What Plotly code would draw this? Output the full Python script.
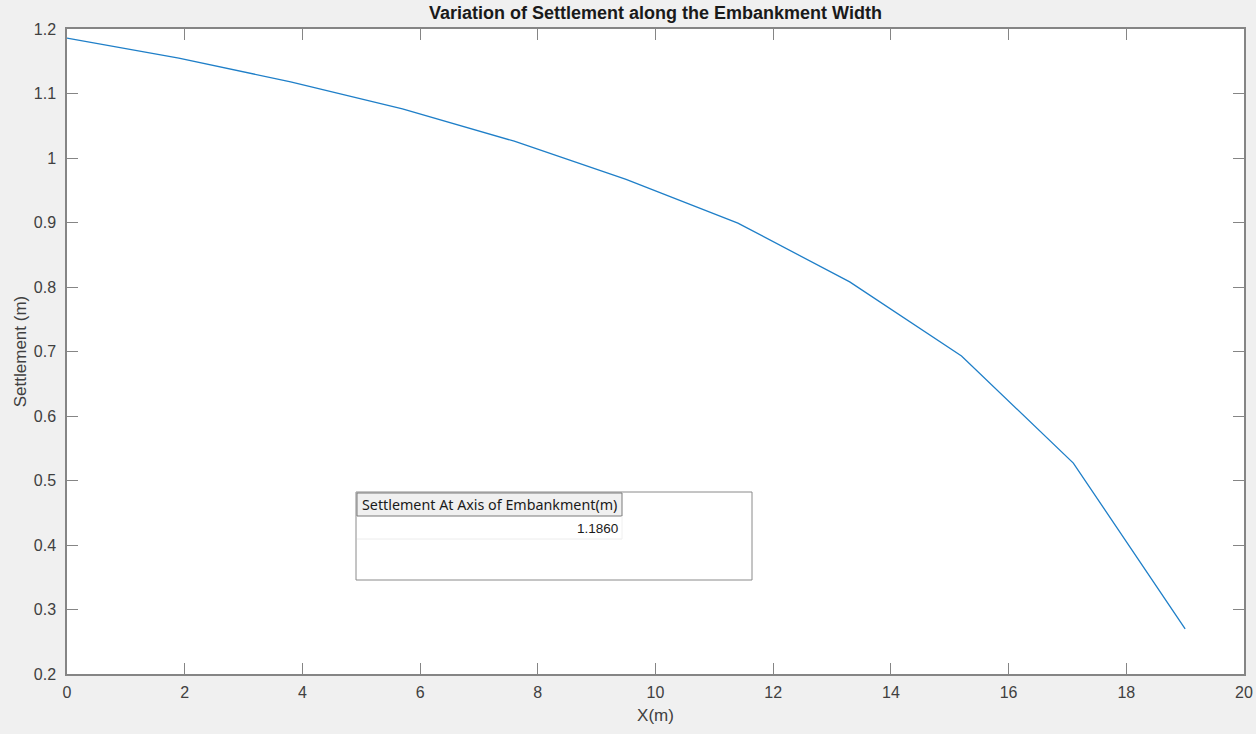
import plotly.graph_objects as go

# Data
x_m = [0, 1.9, 3.8, 5.7, 7.6, 9.5, 11.4, 13.3, 15.2, 17.1, 19.0]
settlement_m = [1.186, 1.155, 1.118, 1.076, 1.026, 0.967, 0.899, 0.808, 0.693, 0.527, 0.270]
x_ticks = [0, 2, 4, 6, 8, 10, 12, 14, 16, 18, 20]
y_ticks = [0.2, 0.3, 0.4, 0.5, 0.6, 0.7, 0.8, 0.9, 1.0, 1.1, 1.2]
y_tick_text = ["0.2", "0.3", "0.4", "0.5", "0.6", "0.7", "0.8", "0.9", "1", "1.1", "1.2"]
table_header = "Settlement At Axis of Embankment(m)"
table_value = "1.1860"

W, H = 1256, 734
L, R, T, B = 67, 12, 29, 60
pw, ph = W - L - R, H - T - B

def px(xp):
    return (xp - L) / pw

def py(yp):
    return (H - B - yp) / ph

fig = go.Figure()
fig.add_trace(go.Scatter(x=x_m, y=settlement_m, mode="lines",
                         line=dict(color="#1f7fc8", width=1.3),
                         showlegend=False, hoverinfo="x+y"))

tick_font = dict(family="Liberation Sans, Arial", size=16, color="#404040")
label_font = dict(family="Liberation Sans, Arial", size=17, color="#404040")

axis_common = dict(showline=True, linecolor="#858585", linewidth=1.5, mirror="ticks",
                   ticks="inside", tickcolor="#858585", tickwidth=1.3, ticklen=11,
                   showgrid=False, zeroline=False, tickfont=tick_font, automargin=False)

fig.update_xaxes(range=[0, 20], tickvals=x_ticks, ticklabelstandoff=3,
                 title=dict(text="X(m)", font=label_font, standoff=9),
                 **axis_common)
fig.update_yaxes(range=[0.2, 1.2], tickvals=y_ticks, ticktext=y_tick_text, ticklabelstandoff=6,
                 title=dict(text="Settlement (m)", font=label_font, standoff=3),
                 **axis_common)

shapes = [
    # table outer box
    dict(type="rect", xref="paper", yref="paper", x0=px(356), x1=px(752), y0=py(580), y1=py(492),
         line=dict(color="#8a8a8a", width=1), fillcolor="white", layer="above"),
    # header cell
    dict(type="rect", xref="paper", yref="paper", x0=px(357), x1=px(622), y0=py(516), y1=py(493),
         line=dict(color="#7a7a7a", width=1), fillcolor="#f0f0f0", layer="above"),
    # row separator
    dict(type="line", xref="paper", yref="paper", x0=px(357), x1=px(622), y0=py(539), y1=py(539),
         line=dict(color="#ececec", width=1), layer="above"),
    dict(type="line", xref="paper", yref="paper", x0=px(622), x1=px(622), y0=py(539), y1=py(516),
         line=dict(color="#f0f0f0", width=1), layer="above"),
]

annotations = [
    dict(text=table_header, xref="paper", yref="paper", x=px(489.5), y=py(505),
         xanchor="center", yanchor="middle", showarrow=False,
         font=dict(family="Noto Sans, Open Sans", size=14.3, color="#1a1a1a")),
    dict(text=table_value, xref="paper", yref="paper", x=px(620), y=py(528),
         xanchor="right", yanchor="middle", showarrow=False,
         font=dict(family="Liberation Sans, Arial", size=13.5, color="#1a1a1a")),
]

fig.update_layout(
    width=W, height=H,
    margin=dict(l=L, r=R, t=T, b=B, autoexpand=False),
    paper_bgcolor="#f0f0f0", plot_bgcolor="white",
    title=dict(text="<b>Variation of Settlement along the Embankment Width</b>",
               x=0.5, xref="paper", xanchor="center", y=1 - 13 / H, yref="container", yanchor="middle",
               font=dict(family="Liberation Sans, Arial", size=18, color="#1a1a1a"),
               automargin=False),
    shapes=shapes, annotations=annotations,
)

fig.write_html("out.html", config={"displayModeBar": False},
               post_script="document.body.style.margin='0';document.body.style.overflow='hidden';"
                           "document.body.style.background='#f0f0f0';")
